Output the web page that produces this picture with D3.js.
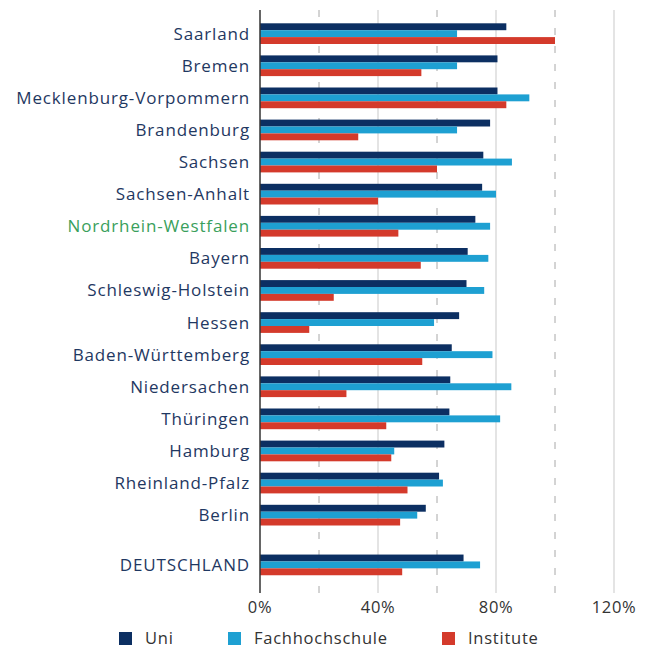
<!DOCTYPE html>
<html><head><meta charset="utf-8">
<script src="https://cdn.jsdelivr.net/npm/d3@7/dist/d3.min.js"></script>
<style>body{margin:0;background:#fff}svg{display:block}</style>
</head><body><svg id="c" width="658" height="648"></svg>
<script>
const categories = ["Saarland","Bremen","Mecklenburg-Vorpommern","Brandenburg","Sachsen","Sachsen-Anhalt","Nordrhein-Westfalen","Bayern","Schleswig-Holstein","Hessen","Baden-Württemberg","Niedersachen","Thüringen","Hamburg","Rheinland-Pfalz","Berlin","DEUTSCHLAND"];
const uni = [83.5,80.5,80.5,78,75.7,75.3,73,70.4,70,67.5,65,64.5,64.2,62.5,60.7,56.2,69];
const fachhochschule = [66.8,66.8,91.3,66.8,85.4,80,78,77.4,76,59,78.8,85.2,81.4,45.5,62,53.3,74.6];
const institute = [100,54.7,83.5,33.3,60,40,46.9,54.5,25,16.7,55,29.3,42.8,44.5,50,47.5,48.2];
const seriesNames = ["Uni","Fachhochschule","Institute"];
const tickValues = [0,40,80,120];
const gridValues = [20,40,60,80,100,120];

const colors = {"Uni":"#0c2f62","Fachhochschule":"#1ea0d2","Institute":"#d43a2b"};
const svg = d3.select("#c");
const fontFam = "'Open Sans', sans-serif";

const x = d3.scaleLinear().domain([0,120]).range([260,614]);
const step = 32.1, bw = 20.7;
// row index with extra gap before the national total
const rowIndex = d3.scaleOrdinal().domain(categories).range(categories.map((c,i)=> i===16 ? 16.55 : i));
const yPos = d3.scaleLinear().domain([0,1]).range([23.3, 23.3+step]);
const rowY = c => yPos(rowIndex(c));
const yInner = d3.scaleBand().domain(seriesNames).range([0,bw]).padding(0);

// gridlines
svg.append("g").selectAll("line").data(gridValues).join("line")
  .attr("x1",d=>x(d)).attr("x2",d=>x(d)).attr("y1",10).attr("y2",593)
  .attr("stroke",d=>d%40===0?"#c9c9c9":"#a8a8a8")
  .attr("stroke-width",1)
  .attr("stroke-dasharray",d=>d%40===0?null:"7,11");

// bars
const data = categories.map((c,i)=>({c, vals:[{s:"Uni",v:uni[i]},{s:"Fachhochschule",v:fachhochschule[i]},{s:"Institute",v:institute[i]}]}));
const g = svg.append("g").selectAll("g").data(data).join("g")
  .attr("transform",d=>`translate(0,${rowY(d.c)})`);
g.selectAll("rect").data(d=>d.vals).join("rect")
  .attr("x",x(0)).attr("y",d=>yInner(d.s)).attr("height",yInner.bandwidth())
  .attr("width",d=>x(d.v)-x(0)).attr("fill",d=>colors[d.s]);

// axis line
svg.append("line").attr("x1",x(0)).attr("x2",x(0)).attr("y1",10).attr("y2",593)
  .attr("stroke","#333").attr("stroke-width",1.5);

// category labels
svg.append("g").selectAll("text").data(categories).join("text")
  .attr("x",250).attr("y",d=>rowY(d)+bw/2).attr("dy","0.35em")
  .attr("text-anchor","end").attr("font-family",fontFam).attr("font-size",17)
  .attr("letter-spacing",0.85)
  .attr("fill",d=>d==="Nordrhein-Westfalen"?"#3a9f5c":"#1f3862")
  .text(d=>d);

// tick labels
svg.append("g").selectAll("text").data(tickValues).join("text")
  .attr("x",d=>x(d)).attr("y",607).attr("dy","0.35em").attr("text-anchor","middle")
  .attr("font-family",fontFam).attr("font-size",16.5).attr("letter-spacing",0.6).attr("fill","#333")
  .text(d=>d+"%");

// legend
const legX = [119,228,442];
const lg = svg.append("g").selectAll("g").data(seriesNames).join("g")
  .attr("transform",(d,i)=>`translate(${legX[i]},632)`);
lg.append("rect").attr("width",13).attr("height",13).attr("fill",d=>colors[d]);
lg.append("text").attr("x",26).attr("y",6.5).attr("dy","0.35em")
  .attr("font-family",fontFam).attr("font-size",16.5).attr("letter-spacing",0.75).attr("fill","#333").text(d=>d);
</script></body></html>
